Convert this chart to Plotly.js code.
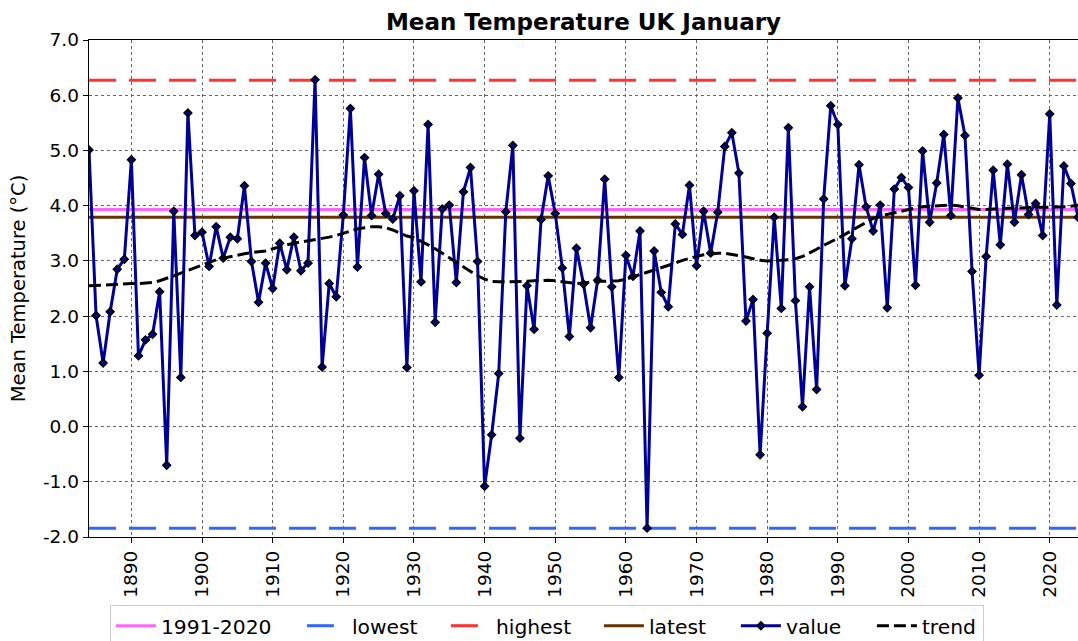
<!DOCTYPE html>
<html>
<head>
<meta charset="utf-8">
<script src="https://cdn.plot.ly/plotly-3.0.1.min.js"></script>
<style>
  html, body { margin: 0; padding: 0; background: #ffffff; }
  #chart { width: 1078px; height: 641px; }
</style>
</head>
<body>
<div id="chart"></div>
<script>
// ---- Data ----
const firstYear = 1884;
const lastYear = 2024;

const years = [];
for (let y = firstYear; y <= lastYear; y++) years.push(y);

// January mean temperature (°C), 1884 ... 2024
const values = [
  5.01, 2.01, 1.15, 2.08, 2.85, 3.03, 4.83, 1.28, 1.57, 1.67,   // 1884-1893
  2.44, -0.70, 3.90, 0.89, 5.68, 3.46, 3.52, 2.90, 3.62, 3.05,  // 1894-1903
  3.43, 3.40, 4.36, 2.99, 2.25, 2.96, 2.50, 3.32, 2.84, 3.43,   // 1904-1913
  2.82, 2.96, 6.28, 1.08, 2.59, 2.35, 3.83, 5.76, 2.89, 4.87,   // 1914-1923
  3.82, 4.57, 3.86, 3.76, 4.18, 1.07, 4.27, 2.62, 5.47, 1.89,   // 1924-1933
  3.94, 4.01, 2.61, 4.25, 4.69, 2.99, -1.08, -0.15, 0.96, 3.89, // 1934-1943
  5.09, -0.21, 2.55, 1.76, 3.75, 4.54, 3.86, 2.87, 1.63, 3.23,  // 1944-1953
  2.58, 1.79, 2.65, 4.48, 2.53, 0.89, 3.10, 2.72, 3.54, -1.84,  // 1954-1963
  3.18, 2.43, 2.17, 3.67, 3.48, 4.37, 2.91, 3.90, 3.14, 3.88,   // 1964-1973
  5.07, 5.32, 4.59, 1.91, 2.30, -0.51, 1.69, 3.79, 2.14, 5.41,  // 1974-1983
  2.28, 0.36, 2.53, 0.67, 4.12, 5.81, 5.47, 2.55, 3.40, 4.74,   // 1984-1993
  3.98, 3.54, 4.01, 2.15, 4.30, 4.51, 4.33, 2.56, 4.99, 3.70,   // 1994-2003
  4.41, 5.29, 3.82, 5.95, 5.27, 2.81, 0.93, 3.08, 4.64, 3.29,   // 2004-2013
  4.75, 3.70, 4.56, 3.84, 4.04, 3.46, 5.66, 2.20, 4.72, 4.40,   // 2014-2023
  3.79                                                          // 2024
];

// Smoothed trend (°C), 1884 ... 2024
const trend = [
  2.55, 2.55, 2.56, 2.57, 2.58, 2.58, 2.59, 2.59, 2.60, 2.61,   // 1884-1893
  2.64, 2.68, 2.73, 2.78, 2.83, 2.88, 2.93, 2.98, 3.02, 3.05,   // 1894-1903
  3.08, 3.10, 3.13, 3.15, 3.16, 3.18, 3.22, 3.26, 3.29, 3.32,   // 1904-1913
  3.34, 3.36, 3.38, 3.40, 3.43, 3.46, 3.50, 3.55, 3.58, 3.60,   // 1914-1923
  3.62, 3.62, 3.60, 3.56, 3.50, 3.45, 3.42, 3.36, 3.29, 3.22,   // 1924-1933
  3.14, 3.06, 2.97, 2.89, 2.81, 2.73, 2.67, 2.63, 2.62, 2.62,   // 1934-1943
  2.63, 2.63, 2.63, 2.64, 2.65, 2.65, 2.64, 2.62, 2.60, 2.59,   // 1944-1953
  2.60, 2.62, 2.63, 2.63, 2.63, 2.64, 2.67, 2.71, 2.75, 2.79,   // 1954-1963
  2.84, 2.88, 2.92, 2.96, 3.01, 3.05, 3.08, 3.11, 3.13, 3.14,   // 1964-1973
  3.14, 3.12, 3.10, 3.07, 3.04, 3.01, 3.00, 3.00, 3.01, 3.02,   // 1974-1983
  3.04, 3.08, 3.14, 3.21, 3.28, 3.34, 3.41, 3.48, 3.55, 3.62,   // 1984-1993
  3.70, 3.77, 3.81, 3.84, 3.87, 3.91, 3.94, 3.96, 3.98, 3.99,   // 1994-2003
  4.00, 4.00, 4.01, 4.00, 3.98, 3.95, 3.93, 3.93, 3.94, 3.95,   // 2004-2013
  3.95, 3.96, 3.96, 3.97, 3.97, 3.97, 3.97, 3.98, 3.98, 3.99,   // 2014-2023
  4.01                                                          // 2024
];

// Reference levels (°C)
const normal19912020 = 3.93;
const lowest = -1.84;
const highest = 6.27;
const latest = 3.79;

const legendNames = ['1991-2020', 'lowest', 'highest', 'latest', 'value', 'trend'];

const yTickVals = [-2, -1, 0, 1, 2, 3, 4, 5, 6, 7];
const yTickText = ['-2.0', '-1.0', '0.0', '1.0', '2.0', '3.0', '4.0', '5.0', '6.0', '7.0'];
const xTickVals = [1890, 1900, 1910, 1920, 1930, 1940, 1950, 1960, 1970, 1980, 1990, 2000, 2010, 2020];

// ---- Traces ----
const span = [years[0], years[years.length - 1]];
function levelLine(name, level, color, dash, lw) {
  return {
    x: span, y: [level, level], type: 'scatter', mode: 'lines', name: name,
    line: { color: color, width: 3, dash: dash }, hoverinfo: 'skip', legendwidth: lw
  };
}

const traces = [
  levelLine(legendNames[0], normal19912020, '#FF66FF', 'solid', 136),
  levelLine(legendNames[1], lowest, '#3366FF', '27px,13px', 89),
  levelLine(legendNames[2], highest, '#FF3333', '27px,13px', 98),
  levelLine(legendNames[3], latest, '#663300', 'solid', 82),
  {
    x: years, y: values, type: 'scatter', mode: 'lines+markers', name: legendNames[4],
    line: { color: '#000096', width: 3 },
    marker: { symbol: 'diamond', size: 6, color: '#000080', line: { color: '#000000', width: 1.5 } },
    cliponaxis: true, legendwidth: 81
  },
  {
    x: years, y: trend, type: 'scatter', mode: 'lines', name: legendNames[5],
    line: { color: '#000000', width: 3, dash: '12px,5px' }, legendwidth: 56
  }
];

const font = 'DejaVu Sans, sans-serif';

const layout = {
  width: 1078, height: 641,
  margin: { l: 89, r: 0, t: 40, b: 104, pad: 0, autoexpand: false },
  paper_bgcolor: '#ffffff', plot_bgcolor: '#ffffff',
  font: { family: font, color: '#000000', size: 18.5 },
  title: {
    text: '<b>Mean Temperature UK January</b>',
    font: { family: font, size: 23, color: '#000000' },
    x: 0.5, xref: 'paper', xanchor: 'center',
    y: 1 - 22 / 641, yref: 'container', yanchor: 'middle'
  },
  showlegend: true,
  legend: {
    orientation: 'h', x: 0.463, xanchor: 'center',
    y: 1 - 605 / 641, yref: 'container', yanchor: 'top',
    font: { family: font, size: 20.3, color: '#000000' },
    bordercolor: '#cccccc', borderwidth: 1, bgcolor: '#ffffff',
    itemwidth: 40, traceorder: 'normal'
  },
  xaxis: {
    range: [firstYear, lastYear],
    tickmode: 'array', tickvals: xTickVals,
    tickangle: -90,
    ticks: 'outside', ticklen: 5, tickwidth: 1, tickcolor: '#000000',
    showline: true, linecolor: '#000000', linewidth: 1.3, mirror: true,
    showgrid: true, gridcolor: '#666666', gridwidth: 1, griddash: 'dot',
    zeroline: false,
    tickfont: { family: font, size: 18.5, color: '#000000' }
  },
  yaxis: {
    range: [-2, 7],
    tickmode: 'array', tickvals: yTickVals, ticktext: yTickText,
    ticks: 'outside', ticklen: 5, tickwidth: 1, tickcolor: '#000000',
    showline: true, linecolor: '#000000', linewidth: 1.3, mirror: false,
    showgrid: true, gridcolor: '#666666', gridwidth: 1, griddash: 'dot',
    zeroline: false,
    tickfont: { family: font, size: 18.5, color: '#000000' },
    title: { text: 'Mean Temperature (°C)', font: { family: font, size: 19.5, color: '#000000' }, standoff: 12 }
  }
};

Plotly.newPlot('chart', traces, layout, { displayModeBar: false, staticPlot: true });
</script>
</body>
</html>
